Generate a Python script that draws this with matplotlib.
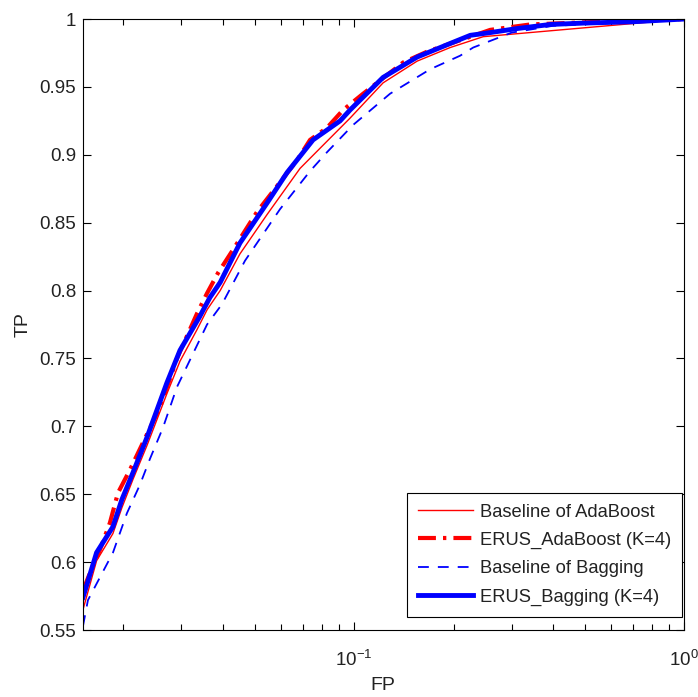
import matplotlib
matplotlib.use("Agg")
import matplotlib.pyplot as plt
from matplotlib.ticker import FixedLocator, FixedFormatter, LogLocator, NullFormatter

plt.rcParams['font.family'] = ['Liberation Sans', 'DejaVu Sans']
plt.rcParams['mathtext.fontset'] = 'custom'
plt.rcParams['mathtext.rm'] = 'Liberation Sans'
plt.rcParams['mathtext.it'] = 'Liberation Sans'

# ROC curves (FP rate on log scale, TP rate)
fp_ada_base = [0.0151, 0.0166, 0.0186, 0.0198, 0.0214, 0.0236, 0.0271, 0.0297, 0.0334, 0.0359,
               0.0393, 0.0451, 0.0545, 0.0686, 0.0828, 0.0972, 0.1224, 0.1552, 0.1954, 0.2460, 1.0]
tp_ada_base = [0.565, 0.601, 0.621, 0.640, 0.661, 0.686, 0.724, 0.748, 0.771, 0.786,
               0.800, 0.827, 0.856, 0.890, 0.910, 0.927, 0.953, 0.969, 0.979, 0.987, 1.0]

fp_ada_erus = [0.0151, 0.01585, 0.01699, 0.01822, 0.01927, 0.02095, 0.02294, 0.02583, 0.02908,
               0.03343, 0.03586, 0.03872, 0.04297, 0.05083, 0.06720, 0.07356, 0.08284, 0.09261,
               0.1065, 0.1408, 0.1665, 0.2583, 0.3415, 0.5565, 1.0]
tp_ada_erus = [0.579, 0.592, 0.609, 0.629, 0.651, 0.668, 0.688, 0.714, 0.750,
               0.783, 0.798, 0.813, 0.830, 0.858, 0.896, 0.911, 0.920, 0.933,
               0.945, 0.968, 0.976, 0.992, 0.996, 0.998, 1.0]

fp_bag_base = [0.0151, 0.01563, 0.01861, 0.02051, 0.02246, 0.02408, 0.02637, 0.02908, 0.03586,
               0.03981, 0.04673, 0.05967, 0.07356, 0.08284, 0.09931, 0.1285, 0.1699, 0.2095,
               0.2294, 0.30, 0.40, 0.60, 1.0]
tp_bag_base = [0.553, 0.572, 0.607, 0.636, 0.657, 0.676, 0.699, 0.729, 0.775,
               0.790, 0.822, 0.860, 0.888, 0.902, 0.922, 0.945, 0.963, 0.973,
               0.979, 0.990, 0.995, 0.997, 1.0]

fp_bag_erus = [0.0151, 0.0166, 0.0186, 0.0198, 0.0214, 0.0236, 0.0271, 0.0297, 0.0341, 0.0366,
               0.0393, 0.0451, 0.0545, 0.0627, 0.0751, 0.0907, 0.0972, 0.1224, 0.1552, 0.1954,
               0.2248, 0.2583, 0.3119, 0.3926, 0.494, 0.700, 1.0]
tp_bag_erus = [0.574, 0.607, 0.626, 0.646, 0.666, 0.692, 0.732, 0.756, 0.781, 0.795,
               0.806, 0.835, 0.8645, 0.887, 0.911, 0.925, 0.933, 0.957, 0.972, 0.982,
               0.988, 0.990, 0.993, 0.996, 0.997, 0.998, 1.0]

labels = ['Baseline of AdaBoost', 'ERUS_AdaBoost (K=4)', 'Baseline of Bagging', 'ERUS_Bagging (K=4)']
yticks = [0.55, 0.6, 0.65, 0.7, 0.75, 0.8, 0.85, 0.9, 0.95, 1]
ytick_labels = ['0.55', '0.6', '0.65', '0.7', '0.75', '0.8', '0.85', '0.9', '0.95', '1']

fig = plt.figure(figsize=(6.98, 6.97), dpi=100)
ax = fig.add_axes([0.1189, 0.0961, 0.8615, 0.8766])

ax.plot(fp_ada_base, tp_ada_base, color='#ff0000', lw=1.0, label=labels[0])
l2, = ax.plot(fp_ada_erus, tp_ada_erus, color='#ff0000', lw=3.0, label=labels[1])
l2.set_dashes((4.3, 1.7, 0.8, 1.7))
l3, = ax.plot(fp_bag_base, tp_bag_base, color='#0000ff', lw=1.3, label=labels[2])
l3.set_dashes((6, 5))
ax.plot(fp_bag_erus, tp_bag_erus, color='#0000ff', lw=3.5, label=labels[3])

ax.set_xscale('log')
ax.set_xlim(0.0151, 1)
ax.set_ylim(0.55, 1)

ax.xaxis.set_major_locator(FixedLocator([0.1, 1]))
ax.xaxis.set_major_formatter(FixedFormatter([r'$10^{-1}$', r'$10^{0}$']))
ax.xaxis.set_minor_locator(LogLocator(base=10, subs=[2, 3, 4, 5, 6, 7, 8, 9]))
ax.xaxis.set_minor_formatter(NullFormatter())
ax.yaxis.set_major_locator(FixedLocator(yticks))
ax.yaxis.set_major_formatter(FixedFormatter(ytick_labels))

ax.tick_params(which='both', direction='in', top=True, right=True, colors='black',
               labelcolor='#222222', labelsize=13.5, width=0.8)
ax.tick_params(which='major', length=5.5)
ax.tick_params(which='minor', length=4)
ax.tick_params(axis='y', pad=5)
ax.tick_params(axis='x', pad=14)
for s in ax.spines.values():
    s.set_linewidth(0.8)

ax.set_xlabel('FP', fontsize=14, color='#222222')
ax.xaxis.set_label_coords(0.499, -0.077)
ax.set_ylabel('TP', fontsize=14, color='#222222')
ax.yaxis.set_label_coords(-0.085, 0.5)

leg = ax.legend(loc='lower right', bbox_to_anchor=(0.9967, 0.0213), fontsize=13.2,
                fancybox=False, framealpha=1, edgecolor='black',
                handlelength=3.0, handletextpad=0.38, labelspacing=0.62, borderpad=0.6,
                borderaxespad=0)
leg.get_frame().set_linewidth(0.8)
for t in leg.get_texts():
    t.set_color('#222222')

fig.savefig('out.png', dpi=100)
